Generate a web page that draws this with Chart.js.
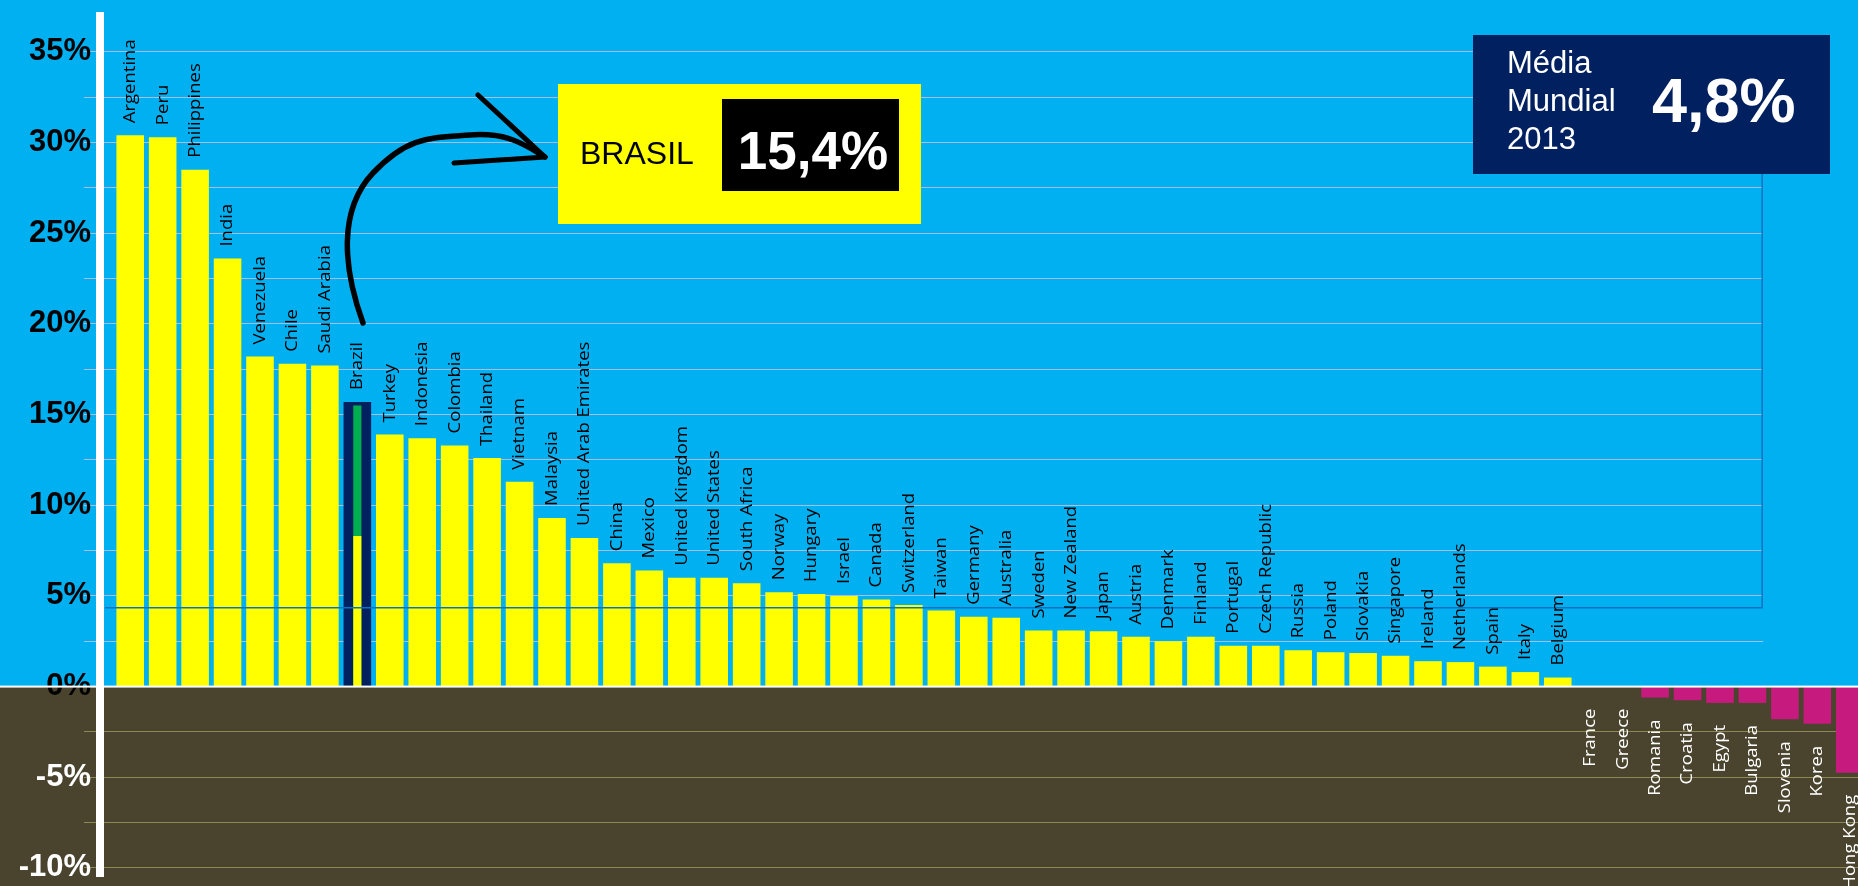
<!DOCTYPE html>
<html lang="pt">
<head>
<meta charset="utf-8">
<title>Crescimento 2013</title>
<script src="https://cdn.jsdelivr.net/npm/chart.js@4.4.1/dist/chart.umd.min.js"></script>
<style>
  html, body { margin: 0; padding: 0; overflow: hidden; background: #00B0F0; }
  #wrap { position: relative; width: 1866px; height: 886px; }
  #overlay { position: absolute; left: 0; top: 0; pointer-events: none; }
</style>
</head>
<body>
<div id="wrap">
  <canvas id="chart"></canvas>
  <svg id="overlay" width="1858" height="886" font-family="'Liberation Sans', Arial, sans-serif">
    <!-- hand drawn arrow -->
    <path d="M363,323 C343,268 338,210 373,173 S430,138 470,135 S528,147 545,157" fill="none" stroke="#000" stroke-width="5.5" stroke-linecap="round"/>
    <path d="M478,95 L545,157 L454,163" fill="none" stroke="#000" stroke-width="5" stroke-linecap="round" stroke-linejoin="round"/>
    <!-- Brasil callout -->
    <rect x="558" y="84" width="363" height="140" fill="#FFFF00"/>
    <rect x="722" y="99" width="177" height="92" fill="#000"/>
    <text x="580" y="164" font-size="32" fill="#000">BRASIL</text>
    <text x="813" y="169" font-size="53" font-weight="bold" fill="#fff" text-anchor="middle">15,4%</text>
    <!-- world average -->
    <rect x="1473" y="35" width="357" height="139" fill="#002060"/>
    <text x="1507" y="73" font-size="31" fill="#fff">Média</text>
    <text x="1507" y="111" font-size="31" fill="#fff">Mundial</text>
    <text x="1507" y="149" font-size="31" fill="#fff">2013</text>
    <text x="1652" y="122" font-size="63" font-weight="bold" fill="#fff">4,8%</text>
  </svg>
</div>
<script>
// ----------------------------------------------------
// Data
// ----------------------------------------------------
const countries = [
    "Argentina", "Peru", "Philippines", "India", "Venezuela", "Chile", "Saudi Arabia", "Brazil",
    "Turkey", "Indonesia", "Colombia", "Thailand", "Vietnam", "Malaysia", "United Arab Emirates",
    "China", "Mexico", "United Kingdom", "United States", "South Africa", "Norway", "Hungary",
    "Israel", "Canada", "Switzerland", "Taiwan", "Germany", "Australia", "Sweden", "New Zealand",
    "Japan", "Austria", "Denmark", "Finland", "Portugal", "Czech Republic", "Russia", "Poland",
    "Slovakia", "Singapore", "Ireland", "Netherlands", "Spain", "Italy", "Belgium", "France",
    "Greece", "Romania", "Croatia", "Egypt", "Bulgaria", "Slovenia", "Korea", "Hong Kong"
];
const growth = [
    30.4, 30.3, 28.5, 23.6, 18.2, 17.8, 17.7, 15.7,
    13.9, 13.7, 13.3, 12.6, 11.3, 9.3, 8.2,
    6.8, 6.4, 6.0, 6.0, 5.7, 5.2, 5.1,
    5.0, 4.8, 4.5, 4.2, 3.85, 3.8, 3.1, 3.1,
    3.05, 2.75, 2.5, 2.75, 2.25, 2.25, 2.0, 1.9,
    1.85, 1.7, 1.4, 1.35, 1.1, 0.8, 0.5, 0,
    0, -0.6, -0.75, -0.9, -0.9, -1.8, -2.05, -4.75
];
// Brazil bar is split in two parts inside its frame
const brazilUpper = 15.5;
const brazilLower = 8.3;
// dark line under the "Média Mundial" box
const worldLineValue = 4.35;
const worldFrameIndex = 50.3;

const yTicks = [-10, -7.5, -5, -2.5, 0, 2.5, 5, 7.5, 10, 12.5, 15, 17.5, 20, 22.5, 25, 27.5, 30, 32.5, 35];

const SKY = "#00B0F0";
const OLIVE = "#4A442E";
const YELLOW = "#FFFF00";
const MAGENTA = "#C71A7F";
const NAVY = "#002060";
const GREEN = "#00B050";

const brazilIndex = countries.indexOf("Brazil");
const upperData = countries.map((c, i) => i === brazilIndex ? brazilUpper : null);
const lowerData = countries.map((c, i) => i === brazilIndex ? brazilLower : null);

// ----------------------------------------------------
// Drawing helpers
// ----------------------------------------------------
const decorations = {
    id: "decorations",
    beforeDraw(chart) {
        const { ctx, width, height } = chart;
        const zero = chart.scales.y.getPixelForValue(0);
        ctx.save();
        ctx.fillStyle = SKY;
        ctx.fillRect(0, 0, width, zero);
        ctx.fillStyle = OLIVE;
        ctx.fillRect(0, zero, width, height - zero);
        ctx.restore();
    },
    beforeDatasetsDraw(chart) {
        // upper gridlines stop at the world average frame
        const { ctx, width } = chart;
        const edge = chart.scales.x.getPixelForValue(worldFrameIndex);
        const zero = chart.scales.y.getPixelForValue(0);
        ctx.save();
        ctx.fillStyle = SKY;
        ctx.fillRect(edge + 1, 0, width - edge, zero - 1);
        ctx.restore();
    },
    afterDatasetsDraw(chart) {
        const { ctx, width, chartArea } = chart;
        const x = chart.scales.x;
        const y = chart.scales.y;
        const zero = y.getPixelForValue(0);

        ctx.save();
        // zero line and the thick white axis
        ctx.fillStyle = "#ffffff";
        ctx.fillRect(0, zero - 1, width, 2);
        ctx.fillRect(chartArea.left - 18, chartArea.top, 8, chartArea.bottom - chartArea.top);

        // world line
        const yMean = y.getPixelForValue(worldLineValue);
        const xEnd = x.getPixelForValue(worldFrameIndex);
        ctx.strokeStyle = "#0B72C2";
        ctx.lineWidth = 1.5;
        ctx.beginPath();
        ctx.moveTo(chartArea.left - 9, yMean);
        ctx.lineTo(xEnd, yMean);
        ctx.lineTo(xEnd, 174);
        ctx.stroke();

        // country labels
        ctx.font = '17px "Open Sans", sans-serif';
        ctx.textBaseline = "middle";
        chart.getDatasetMeta(0).data.forEach((bar, i) => {
            const up = growth[i] > 0;
            ctx.save();
            ctx.translate(bar.x, up ? bar.y - 12 : bar.y + 22);
            ctx.rotate(-Math.PI / 2);
            ctx.scale(1.09, 1);
            ctx.textAlign = up ? "left" : "right";
            ctx.fillStyle = up ? "#000000" : "#ffffff";
            ctx.fillText(countries[i], 0, 0);
            ctx.restore();
        });
        ctx.restore();
    }
};

// ----------------------------------------------------
// Chart
// ----------------------------------------------------
new Chart(document.getElementById("chart"), {
    type: "bar",
    data: {
        labels: countries,
        datasets: [
            {
                data: growth,
                order: 3,
                barPercentage: 0.85,
                categoryPercentage: 1,
                backgroundColor: growth.map((v, i) => i === brazilIndex ? NAVY : (v < 0 ? MAGENTA : YELLOW))
            },
            {
                data: upperData,
                order: 2,
                barPercentage: 0.25,
                categoryPercentage: 1,
                backgroundColor: GREEN
            },
            {
                data: lowerData,
                order: 1,
                barPercentage: 0.25,
                categoryPercentage: 1,
                backgroundColor: YELLOW
            }
        ]
    },
    options: {
        responsive: true,
        maintainAspectRatio: false,
        animation: false,
        grouped: false,
        layout: { padding: { top: 12, bottom: 9, left: 0, right: 0 } },
        plugins: {
            legend: { display: false },
            tooltip: { enabled: false }
        },
        scales: {
            x: {
                display: false,
                offset: true
            },
            y: {
                min: -10.5,
                max: 37.2,
                afterBuildTicks: (scale) => {
                    scale.ticks = yTicks.map(v => ({ value: v }));
                },
                afterFit: (scale) => {
                    scale.width = 114;
                    scale.paddingTop = 0;
                    scale.paddingBottom = 0;
                },
                border: { display: false },
                grid: {
                    tickLength: 30,
                    lineWidth: 1,
                    color: (ctx) => {
                        const v = ctx.tick ? ctx.tick.value : 0;
                        if (v > 0) return "#A4BEE6";
                        if (v < 0) return "#8E8756";
                        return "rgba(0,0,0,0)";
                    }
                },
                ticks: {
                    padding: -7,
                    font: { family: '"Liberation Sans", Arial, sans-serif', size: 31, weight: "bold" },
                    color: (ctx) => ctx.tick && ctx.tick.value < 0 ? "#ffffff" : "#000000",
                    callback: (v) => v % 5 === 0 ? v + "%" : ""
                }
            }
        }
    },
    plugins: [decorations]
});
</script>
</body>
</html>
